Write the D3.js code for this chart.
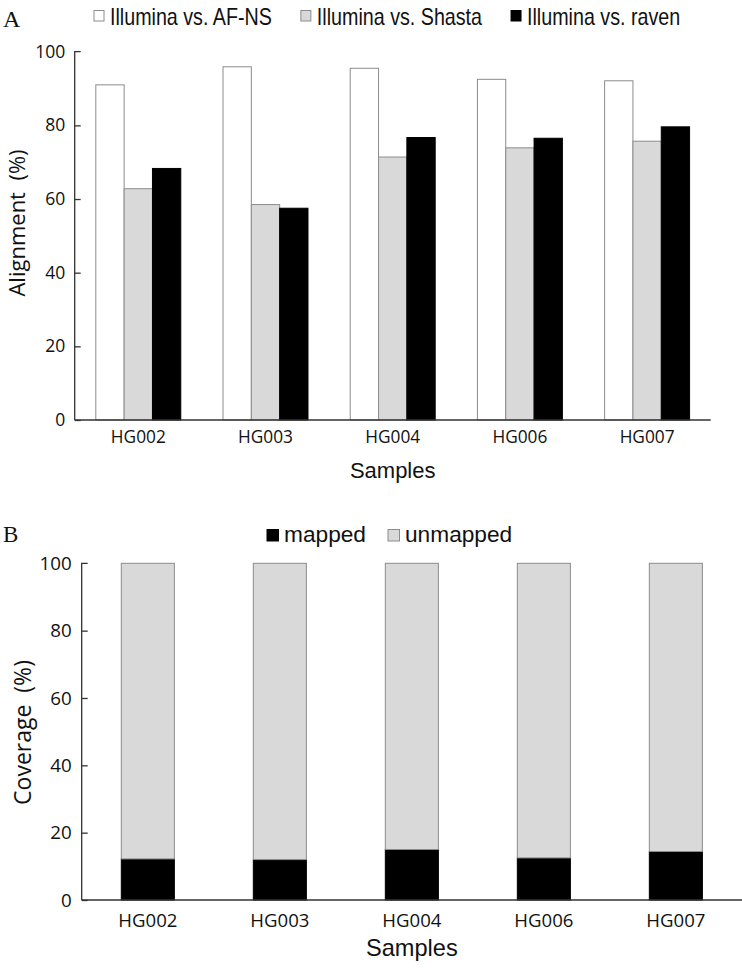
<!DOCTYPE html>
<html>
<head>
<meta charset="utf-8">
<script src="https://cdn.jsdelivr.net/npm/d3@7"></script>
<style>
  html, body { margin: 0; padding: 0; background: #fff; }
  svg { display: block; }
  text { white-space: pre; }
</style>
</head>
<body>
<svg id="chart" width="742" height="968"></svg>
<script>
// ---------- data ----------
const samples = ["HG002", "HG003", "HG004", "HG006", "HG007"];
const alignSeries = ["Illumina vs. AF-NS", "Illumina vs. Shasta", "Illumina vs. raven"];
const alignAFNS   = [91.0, 95.9, 95.5, 92.5, 92.1];
const alignShasta = [62.8, 58.5, 71.4, 73.9, 75.7];
const alignRaven  = [68.3, 57.5, 76.7, 76.5, 79.6];
const coverSeries = ["mapped", "unmapped"];
const mapped   = [12.2, 12.0, 15.0, 12.5, 14.4];
const unmapped = [87.8, 88.0, 85.0, 87.5, 85.6];
const yTicks = [0, 20, 40, 60, 80, 100];

// ---------- styles ----------
const alignFill = ["#ffffff", "#d9d9d9", "#000000"];
const alignStroke = ["#8c8c8c", "#8c8c8c", "#000000"];
const coverFill = { mapped: "#000000", unmapped: "#d9d9d9" };
const coverStroke = { mapped: "#000000", unmapped: "#8c8c8c" };
const tickFont = "'Open Sans', 'DejaVu Sans', sans-serif";
const arialFont = "'Liberation Sans', Arial, sans-serif";
const serifFont = "'Liberation Serif', 'Times New Roman', serif";
const axisColor = "#333333";
const condense = 0.82;

const svg = d3.select("#chart");

// =============== Panel A ===============
(function panelA() {
  const left = 74.7, right = 710.7, top = 51.7, bottom = 420;
  const x0 = d3.scaleBand().domain(samples).range([left, right])
    .paddingInner(0.332).paddingOuter(0.166);
  const x1 = d3.scaleBand().domain(alignSeries).range([0, x0.bandwidth()]);
  const y = d3.scaleLinear().domain([0, 100]).range([bottom, top]);
  const values = [alignAFNS, alignShasta, alignRaven];

  const g = svg.append("g");
  alignSeries.forEach((s, si) => {
    g.append("g").selectAll("rect").data(samples).join("rect")
      .attr("x", d => x0(d) + x1(s))
      .attr("y", (d, i) => y(values[si][i]))
      .attr("width", x1.bandwidth())
      .attr("height", (d, i) => y(0) - y(values[si][i]))
      .attr("fill", alignFill[si])
      .attr("stroke", alignStroke[si])
      .attr("stroke-width", 1);
  });

  const yAxis = g.append("g").attr("transform", `translate(${left},0)`)
    .call(d3.axisRight(y).tickValues(yTicks).tickSize(6).tickFormat(""));
  yAxis.select(".domain").attr("d", `M6,${top}H0V${bottom}`).attr("stroke", axisColor).attr("stroke-width", 1.3);
  yAxis.selectAll(".tick line").attr("stroke", axisColor).attr("stroke-width", 1.3);
  yAxis.selectAll(".tick").filter(d => d === 100).select("line").remove();
  g.append("g").selectAll("text").data(yTicks).join("text")
    .attr("x", left - 9.5).attr("y", d => y(d)).attr("dy", "0.35em")
    .attr("text-anchor", "end").attr("font-family", tickFont).attr("font-size", 17.5)
    .attr("fill", "#111").text(d => d);

  const xAxis = g.append("g").attr("transform", `translate(0,${bottom})`)
    .call(d3.axisBottom(x0).tickSize(0).tickPadding(14));
  xAxis.select(".domain").attr("d", `M${left},0H${right}`).attr("stroke", axisColor).attr("stroke-width", 1.3);
  xAxis.selectAll(".tick text").attr("font-family", tickFont).attr("font-size", 17.3)
    .attr("fill", "#111").attr("dy", "0.71em").attr("y", 10.5);

  g.append("text").attr("x", (left + right) / 2).attr("y", 477.7)
    .attr("text-anchor", "middle").attr("font-family", arialFont).attr("font-size", 22)
    .attr("fill", "#111").text("Samples");
  g.append("text").attr("transform", `translate(25,223) rotate(-90)`)
    .attr("text-anchor", "middle").attr("font-family", tickFont).attr("font-size", 22)
    .attr("fill", "#111").text("Alignment  (%)");

  svg.append("text").attr("x", 3).attr("y", 27).attr("font-family", serifFont)
    .attr("font-size", 24).attr("fill", "#111").text("A");

  // legend (condensed sans)
  const leg = svg.append("g");
  let lx = 94;
  alignSeries.forEach((s, si) => {
    leg.append("rect").attr("x", lx).attr("y", 10.5).attr("width", 10).attr("height", 10.5)
      .attr("fill", alignFill[si]).attr("stroke", alignStroke[si]).attr("stroke-width", 1);
    const t = leg.append("text").attr("x", lx + 16).attr("y", 24.5)
      .attr("font-family", arialFont).attr("font-size", 24).attr("fill", "#111").text(s);
    const w = t.node().getComputedTextLength() * condense;
    t.attr("textLength", w).attr("lengthAdjust", "spacingAndGlyphs");
    lx = lx + 16 + w + 29;
  });
})();

// =============== Panel B ===============
(function panelB() {
  const left = 81.7, right = 742, top = 563.3, bottom = 900;
  const x = d3.scaleBand().domain(samples).range([left, right])
    .paddingInner(0.598).paddingOuter(0.3);
  const y = d3.scaleLinear().domain([0, 100]).range([bottom, top]);
  const rows = samples.map((s, i) => ({ sample: s, mapped: mapped[i], unmapped: unmapped[i] }));
  const stacked = d3.stack().keys(coverSeries)(rows);

  const g = svg.append("g");
  g.selectAll("g.layer").data(stacked).join("g").attr("class", "layer")
    .attr("fill", d => coverFill[d.key]).attr("stroke", d => coverStroke[d.key]).attr("stroke-width", 1)
    .selectAll("rect").data(d => d).join("rect")
    .attr("x", d => x(d.data.sample))
    .attr("y", d => y(d[1]))
    .attr("width", x.bandwidth())
    .attr("height", d => y(d[0]) - y(d[1]));

  const yAxis = g.append("g").attr("transform", `translate(${left},0)`)
    .call(d3.axisRight(y).tickValues(yTicks).tickSize(6).tickFormat(""));
  yAxis.select(".domain").attr("d", `M6,${top}H0V${bottom}`).attr("stroke", axisColor).attr("stroke-width", 1.3);
  yAxis.selectAll(".tick line").attr("stroke", axisColor).attr("stroke-width", 1.3);
  yAxis.selectAll(".tick").filter(d => d === 100).select("line").remove();
  g.append("g").selectAll("text").data(yTicks).join("text")
    .attr("x", left - 10).attr("y", d => y(d)).attr("dy", "0.35em")
    .attr("text-anchor", "end").attr("font-family", tickFont).attr("font-size", 18.8)
    .attr("fill", "#111").text(d => d);

  const xAxis = g.append("g").attr("transform", `translate(0,${bottom})`)
    .call(d3.axisBottom(x).tickSize(0));
  xAxis.select(".domain").attr("d", `M${left},0H${right}`).attr("stroke", axisColor).attr("stroke-width", 1.3);
  xAxis.selectAll(".tick text").attr("font-family", tickFont).attr("font-size", 18.6)
    .attr("fill", "#111").attr("dy", "0.71em").attr("y", 13.5);

  g.append("text").attr("x", (left + right) / 2).attr("y", 956)
    .attr("text-anchor", "middle").attr("font-family", arialFont).attr("font-size", 23.6)
    .attr("fill", "#111").text("Samples");
  g.append("text").attr("transform", `translate(31,732.5) rotate(-90)`)
    .attr("text-anchor", "middle").attr("font-family", tickFont).attr("font-size", 23)
    .attr("fill", "#111").text("Coverage  (%)");

  svg.append("text").attr("x", 3).attr("y", 541.7).attr("font-family", serifFont)
    .attr("font-size", 23).attr("fill", "#111").text("B");

  const leg = svg.append("g");
  let lx = 267;
  coverSeries.forEach(s => {
    leg.append("rect").attr("x", lx).attr("y", 529.5).attr("width", 11.5).attr("height", 11.5)
      .attr("fill", coverFill[s]).attr("stroke", coverStroke[s]).attr("stroke-width", 1);
    const t = leg.append("text").attr("x", lx + 17).attr("y", 541.5)
      .attr("font-family", arialFont).attr("font-size", 22.7).attr("fill", "#111").text(s);
    const w = t.node().getComputedTextLength();
    lx = lx + 17 + w + 22;
  });
})();
</script>
</body>
</html>
